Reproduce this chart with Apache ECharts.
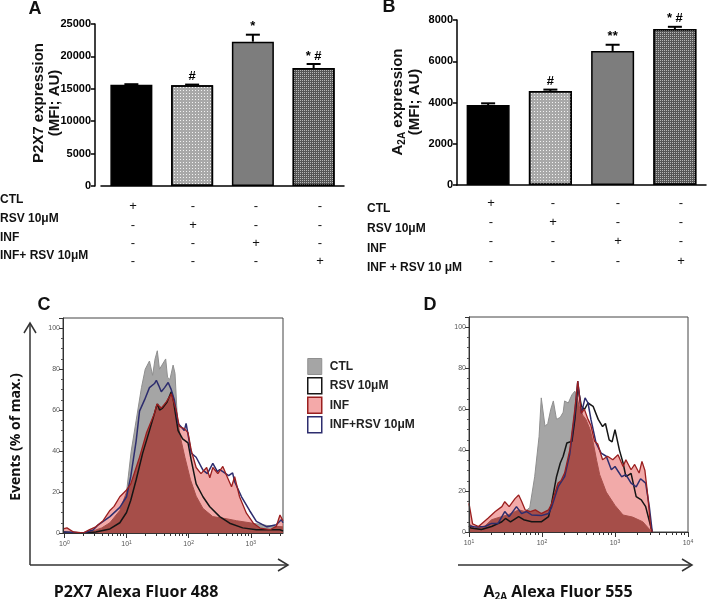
<!DOCTYPE html>
<html>
<head>
<meta charset="utf-8">
<script src="https://cdn.jsdelivr.net/npm/echarts@6/dist/echarts.min.js"></script>
<style>
  html, body { margin: 0; padding: 0; background: #fff; }
  #main { width: 708px; height: 599px; }
</style>
</head>
<body>
<div id="main"></div>
<script>
// groups of the bar panels
var groups = ['CTL', 'RSV 10μM', 'INF', 'INF+RSV 10μM'];

// panel A: P2X7 MFI
var p2x7Mean = [15630, 15540, 22270, 18210];
var p2x7Err = [80, 110, 1080, 620];
var p2x7Marks = ['', '#', '*', '* #'];

// panel B: A2A MFI
var a2aMean = [3880, 4560, 6500, 7560];
var a2aErr = [80, 65, 300, 110];
var a2aMarks = ['', '#', '**', '* #'];

// treatment tables under A and B
var rowsA = ['CTL', 'RSV 10μM', 'INF', 'INF+ RSV 10μM'];
var rowsB = ['CTL', 'RSV 10μM', 'INF', 'INF + RSV 10 μM'];
var signs = [
  ['+', '-', '-', '-'],
  ['-', '+', '-', '-'],
  ['-', '-', '+', '-'],
  ['-', '-', '-', '+']
];

// histogram tick values
var decadesC = [1, 10, 100, 1000];
var minorC = [2, 3, 4, 5, 6, 7, 8, 9, 20, 30, 40, 50, 60, 70, 80, 90,
  200, 300, 400, 500, 600, 700, 800, 900, 2000, 3000];
var decadesD = [10, 100, 1000, 10000];
var minorD = [20, 30, 40, 50, 60, 70, 80, 90, 200, 300, 400, 500, 600, 700, 800, 900,
  2000, 3000, 4000, 5000, 6000, 7000, 8000, 9000];

// panel C: P2X7 histograms [fluorescence, % of max]
var ctlC = [[0.95,0],[2,0],[2.9,1],[4,2.5],[5.4,5],[7.8,11],[10,20],[11.9,40],[14.3,55],[17.4,71],[20,80],[23.4,84],[26.3,77],[28.8,85],[31.3,89],[33.9,80],[37.2,82],[42.7,85],[45.7,76],[50,75],[56.2,82],[60.3,78],[66,55],[75.9,45],[87,37],[107,26],[132,18],[170,12],[245,8],[400,7],[590,6],[1230,4.5],[2000,3.5],[3300,3]];
var infC = [[0.95,2],[1.1,2.5],[1.4,0.5],[2,0],[2.5,1.5],[3.2,3],[4.2,6],[5.4,11],[6.3,13],[7.8,17.7],[10,21],[11.7,24],[16.2,37],[20.9,48.8],[28.2,58.5],[30.9,63],[36.3,61],[43.7,64],[52.5,68],[56.2,65],[63,60],[70.8,52],[85,51],[97.7,49],[110,40.5],[132,32],[158,29],[195,32],[219,27],[245,32],[295,29],[355,32.5],[410,28],[490,22.6],[550,27.5],[660,17.7],[850,9.7],[1100,4.8],[1410,2.4],[2040,1.6],[2570,3.2],[2950,8.8],[3300,6]];
var rsvC = [[0.95,0.5],[2,0],[3.2,0.5],[5.4,2],[7.8,5],[10,10],[11.7,16],[14.3,26],[18.2,39],[23.4,50],[30.2,61.6],[31.6,63],[34,60],[38,61],[45,64],[52.5,69],[56,66],[67.6,50],[80,46],[97.7,44],[110,35.6],[132,24],[170,17.7],[219,12.8],[316,8],[457,4.8],[741,2.5],[1230,1.6],[2950,1.6],[3300,1]];
var infRsvC = [[0.95,0.5],[2,0],[2.9,1.5],[3.5,4],[5.4,8],[7.8,12.5],[10,17.7],[11.7,27.5],[14.3,45],[16.2,59.5],[19.5,65],[23.4,71],[28.2,73],[30.2,74.6],[33,72],[36.3,69],[41,71],[46.8,73.5],[52.5,70],[58.9,65],[67.6,53.5],[75,52],[85,50],[91,53.5],[110,39],[132,37],[170,30.7],[200,29],[245,34],[290,30],[316,31],[355,30],[440,28],[510,29.4],[550,25],[710,17.7],[955,11],[1230,5.7],[1820,3],[2570,4],[3100,6.5],[3300,5]];

// panel D: A2A histograms
var ctlD = [[10,4],[12,1.8],[16.6,3],[20.4,6],[25,7],[34.7,8.5],[47.9,10.8],[58.9,10],[68,12],[79.4,27],[91.2,46.7],[97.7,65.5],[110,51.6],[120,53],[132,60],[143,64],[158,55],[178,56],[195,58.5],[204,64],[229,63],[257,67],[282,68.8],[295,67],[331,60],[363,57],[400,55],[457,50],[501,44],[560,35],[617,28],[759,19.5],[1000,13],[1290,8.3],[1740,7.3],[2400,5],[3090,0.6],[3300,0]];
var infD = [[10,14],[11.2,4],[13.5,2.7],[18.2,6.7],[22.9,10],[28.2,12.4],[30.9,14.8],[35.5,12.4],[42.7,16.3],[47.9,18.1],[52.5,15],[58.9,10.8],[69.2,10],[81,10.8],[97.7,9],[123,10.8],[135,13.7],[166,23.9],[182,25],[204,28.8],[240,40],[282,60],[309,73.7],[347,58],[380,60],[427,55],[468,52],[525,44.3],[580,43],[676,35.3],[790,37],[933,35.3],[1100,37.7],[1290,32],[1410,35.3],[1660,30.4],[1860,33],[2140,28.8],[2340,34.5],[2570,30],[2820,17.3],[3090,2],[3240,0]];
var rsvD = [[10,3],[10.6,2],[14.8,1.2],[20.4,2.7],[28.2,5],[31.6,6.6],[37,5],[47.9,7.5],[56,6],[72.4,5],[97.7,5],[123,7.5],[135,13.7],[158,27],[178,33.7],[195,37],[219,43.5],[257,44.3],[282,55],[309,71],[347,61.4],[380,59.8],[427,63],[501,61.4],[589,55],[676,51.5],[740,53],[832,45],[912,44],[1000,50],[1150,40],[1290,33.7],[1410,27],[1660,28.6],[1950,17.3],[2290,15.7],[2630,12.4],[3020,4],[3240,0]];
var infRsvD = [[10,3],[12,2.5],[16.6,2.7],[20.4,4.2],[25,4.2],[30.9,10],[35.5,7.5],[44.7,12.4],[52.5,9],[61.7,10],[72.4,8.3],[97.7,8],[123,9],[135,12],[166,22],[204,27],[240,38],[282,58],[309,73.7],[347,58],[389,65.5],[427,63],[468,55],[550,43.5],[646,38.5],[759,37],[891,30.4],[1000,32],[1230,27],[1410,28],[1660,23.9],[1950,22],[2240,26],[2630,23.9],[2950,12.4],[3240,0]];

var FONT = '"Liberation Sans", Arial, sans-serif';
var FONT2 = '"Open Sans", "Liberation Sans", sans-serif';

var barFills = [
  { color: '#000' },
  { color: '#a8a8a8', decal: { symbol: 'rect', symbolSize: 1, color: 'rgba(255,255,255,0.85)', dashArrayX: [1, 2], dashArrayY: [1, 2] } },
  { color: '#7d7d7d' },
  { color: '#565656', decal: { symbol: 'rect', symbolSize: 1, color: '#b8b8b8', dashArrayX: [1, 1], dashArrayY: [1, 1] } }
];

function barSeries(xi, means, width) {
  return {
    type: 'bar', xAxisIndex: xi, yAxisIndex: xi, barWidth: width, silent: true,
    itemStyle: { borderColor: '#000', borderWidth: 1.5 },
    data: means.map(function (v, i) { return { value: v, itemStyle: barFills[i] }; })
  };
}

// error bar (upper only) + significance marks
function errSeries(xi, means, errs, marks) {
  return {
    type: 'custom', xAxisIndex: xi, yAxisIndex: xi, z: 5, silent: true,
    data: means.map(function (v, i) { return [i, v, v + errs[i]]; }),
    renderItem: function (params, api) {
      var b = api.coord([api.value(0), api.value(1)]);
      var t = api.coord([api.value(0), api.value(2)]);
      var st = { stroke: '#000', lineWidth: 2 };
      return {
        type: 'group', children: [
          { type: 'line', shape: { x1: b[0], y1: b[1], x2: t[0], y2: t[1] }, style: st },
          { type: 'line', shape: { x1: t[0] - 7, y1: t[1], x2: t[0] + 7, y2: t[1] }, style: st },
          { type: 'text', x: t[0], y: t[1] - 8, style: {
            text: marks[params.dataIndex], fill: '#000', fontSize: 13, fontWeight: 'bold',
            fontFamily: FONT, align: 'center', verticalAlign: 'middle' } }
        ]
      };
    }
  };
}

function barY(gi, max, step, offset) {
  return {
    type: 'value', gridIndex: gi, min: 0, max: max, interval: step, offset: offset,
    splitLine: { show: false },
    axisLine: { show: true, lineStyle: { color: '#000', width: 1.5 } },
    axisTick: { show: true, length: 4, lineStyle: { color: '#000', width: 1.5 } },
    axisLabel: { margin: 4, color: '#000', fontSize: 11, fontWeight: 'bold', fontFamily: FONT,
      formatter: function (v) { return String(v); } }
  };
}

function barX(gi) {
  return {
    type: 'category', gridIndex: gi, data: groups,
    axisLine: { lineStyle: { color: '#000', width: 1.5 } },
    axisTick: { show: false }, axisLabel: { show: false }
  };
}

function histX(gi, min, max, major, minor) {
  return [{
    type: 'log', gridIndex: gi, min: min, max: max, z: 10, position: 'bottom',
    splitLine: { show: false },
    axisLine: { lineStyle: { color: '#333', width: 1 } },
    axisTick: { length: 5, customValues: major, lineStyle: { color: '#333' } },
    axisLabel: {
      customValues: major, margin: 7,
      formatter: function (v) { return '{b|10}{s|' + Math.round(Math.log10(v)) + '}'; },
      rich: {
        b: { fontSize: 7, color: '#555', fontFamily: FONT, lineHeight: 9 },
        s: { fontSize: 5, color: '#555', fontFamily: FONT, lineHeight: 5, verticalAlign: 'top' }
      }
    }
  }, {
    type: 'log', gridIndex: gi, min: min, max: max, z: 10, position: 'bottom',
    splitLine: { show: false }, axisLine: { show: false },
    axisTick: { length: 3, customValues: minor, lineStyle: { color: '#333' } },
    axisLabel: { show: false }
  }];
}

function histY(gi) {
  return {
    type: 'value', gridIndex: gi, min: 0, max: 105, interval: 20, z: 10,
    splitLine: { show: false },
    axisLine: { show: true, lineStyle: { color: '#333', width: 1 } },
    axisTick: { show: true, length: 4, lineStyle: { color: '#333' } },
    minorTick: { show: true, splitNumber: 4, length: 2, lineStyle: { color: '#555' } },
    axisLabel: {
      margin: 3, fontSize: 7, color: '#555', fontFamily: FONT,
      formatter: function (v) { return v > 100 ? '' : v; }
    }
  };
}

function histSeries(xi, yi, ctl, rsv, inf, infRsv) {
  var base = { type: 'line', xAxisIndex: xi, yAxisIndex: yi, symbol: 'none', silent: true, animation: false };
  return [
    Object.assign({}, base, { name: 'CTL', data: ctl, z: 2,
      lineStyle: { color: '#8f8f8f', width: 1 }, areaStyle: { color: '#a5a5a5', opacity: 1 } }),
    // INF where it overlaps CTL: dark red
    Object.assign({}, base, { name: 'INF', data: inf, z: 3, blendMode: 'source-atop',
      lineStyle: { width: 0, opacity: 0 }, areaStyle: { color: '#a64e49', opacity: 1 } }),
    // INF outside CTL: light pink
    Object.assign({}, base, { name: 'INF', data: inf, z: 4, blendMode: 'destination-over',
      lineStyle: { width: 0, opacity: 0 }, areaStyle: { color: '#f2aaa9', opacity: 1 } }),
    Object.assign({}, base, { name: 'RSV 10μM', data: rsv, z: 5,
      lineStyle: { color: '#151515', width: 1.5 } }),
    Object.assign({}, base, { name: 'INF+RSV 10μM', data: infRsv, z: 5,
      lineStyle: { color: '#2d2d6e', width: 1.5 } }),
    Object.assign({}, base, { name: 'INF', data: inf, z: 6,
      lineStyle: { color: '#9a1f1f', width: 1.3 } })
  ];
}

// static texts and decorations
var graphics = [];
function txt(x, y, text, o) {
  o = o || {};
  graphics.push({
    type: 'text', x: x, y: y, rotation: o.rot || 0, silent: true,
    style: {
      text: text, rich: o.rich, fill: o.color || '#111',
      fontSize: o.size || 12, fontWeight: o.weight || 'bold', fontFamily: o.family || FONT,
      align: o.align || 'center', verticalAlign: 'middle'
    }
  });
}
function arrowLine(points) {
  graphics.push({ type: 'polyline', silent: true, shape: { points: points },
    style: { stroke: '#333', lineWidth: 1.5, fill: null } });
}

txt(35, 9, 'A', { size: 18 });
txt(389, 7, 'B', { size: 18 });
txt(44, 305, 'C', { size: 18 });
txt(430, 305, 'D', { size: 18 });

txt(39, 103, 'P2X7 expression', { size: 15, rot: Math.PI / 2 });
txt(55, 103, '(MFI; AU)', { size: 15, rot: Math.PI / 2 });
txt(398, 102, '{a|A}{s|2A}{a| expression}', { size: 15, rot: Math.PI / 2,
  rich: { a: { fontSize: 15, fontWeight: 'bold', fontFamily: FONT, lineHeight: 18, fill: '#111' },
          s: { fontSize: 10, fontWeight: 'bold', fontFamily: FONT, lineHeight: 8, verticalAlign: 'bottom', fill: '#111' } } });
txt(415, 102, '(MFI; AU)', { size: 15, rot: Math.PI / 2 });

var rowYA = [200, 219, 238, 256], signYA = [206, 225, 243, 261], colA = [133, 193, 256, 320];
var rowYB = [209, 229, 249, 268], signYB = [203, 222, 241, 261], colB = [491, 553, 618, 681];
rowsA.forEach(function (r, i) {
  txt(0, rowYA[i], r, { align: 'left' });
  signs[i].forEach(function (s, j) { txt(colA[j], signYA[i], s, { size: 13, weight: 'normal' }); });
});
rowsB.forEach(function (r, i) {
  txt(367, rowYB[i], r, { align: 'left' });
  signs[i].forEach(function (s, j) { txt(colB[j], signYB[i], s, { size: 13, weight: 'normal' }); });
});

txt(16, 437, 'Events (% of max.)', { size: 14, rot: Math.PI / 2, family: FONT2 });
txt(136, 592, 'P2X7 Alexa Fluor 488', { size: 16, family: FONT2 });
txt(558, 592, '{a|A}{s|2A}{a| Alexa Fluor 555}', { size: 16,
  rich: { a: { fontSize: 16, fontWeight: 'bold', fontFamily: FONT2, lineHeight: 20, fill: '#111' },
          s: { fontSize: 10, fontWeight: 'bold', fontFamily: FONT2, lineHeight: 9, verticalAlign: 'bottom', fill: '#111' } } });

arrowLine([[30, 565], [30, 323]]);
arrowLine([[24, 333], [30, 323], [36, 333]]);
arrowLine([[30, 565], [288, 565]]);
arrowLine([[278, 559], [288, 565], [278, 571]]);
arrowLine([[458, 565], [692, 565]]);
arrowLine([[682, 559], [692, 565], [682, 571]]);

var chart = echarts.init(document.getElementById('main'), null, { renderer: 'canvas' });
var hc = histX(2, 0.95, 3300, decadesC, minorC);
var hd = histX(3, 10, 10000, decadesD, minorD);

chart.setOption({
  backgroundColor: 'transparent',
  animation: false,
  textStyle: { fontFamily: FONT },
  grid: [
    { left: 101, top: 24, width: 243, height: 162, outerBoundsMode: 'none' },
    { left: 457, top: 20, width: 249, height: 165, outerBoundsMode: 'none' },
    { left: 63, top: 318, width: 220, height: 215, show: true, borderColor: '#444', borderWidth: 1,
      backgroundColor: 'transparent', outerBoundsMode: 'none' },
    { left: 469, top: 317, width: 219, height: 215, show: true, borderColor: '#444', borderWidth: 1,
      backgroundColor: 'transparent', outerBoundsMode: 'none' }
  ],
  xAxis: [barX(0), barX(1), hc[0], hc[1], hd[0], hd[1]],
  yAxis: [barY(0, 25000, 5000, 6), barY(1, 8000, 2000, 0), histY(2), histY(3)],
  legend: {
    orient: 'vertical', left: 307, top: 358, padding: 0, icon: 'rect',
    itemWidth: 14, itemHeight: 16, itemGap: 2,
    selectedMode: false,
    textStyle: { fontWeight: 'bold', fontSize: 12, fontFamily: FONT, color: '#222', padding: [0, 0, 0, 3] },
    data: [
      { name: 'CTL', itemStyle: { color: '#a5a5a5', borderColor: '#8f8f8f', borderWidth: 1 } },
      { name: 'RSV 10μM', itemStyle: { color: '#fff', borderColor: '#151515', borderWidth: 1.5 } },
      { name: 'INF', itemStyle: { color: '#f4a9a9', borderColor: '#9a1f1f', borderWidth: 1.5 } },
      { name: 'INF+RSV 10μM', itemStyle: { color: '#fff', borderColor: '#2d2d6e', borderWidth: 1.5 } }
    ]
  },
  graphic: graphics,
  series: [
    barSeries(0, p2x7Mean, 42),
    errSeries(0, p2x7Mean, p2x7Err, p2x7Marks),
    barSeries(1, a2aMean, 43),
    errSeries(1, a2aMean, a2aErr, a2aMarks)
  ].concat(histSeries(2, 2, ctlC, rsvC, infC, infRsvC))
   .concat(histSeries(4, 3, ctlD, rsvD, infD, infRsvD))
});
</script>
</body>
</html>
